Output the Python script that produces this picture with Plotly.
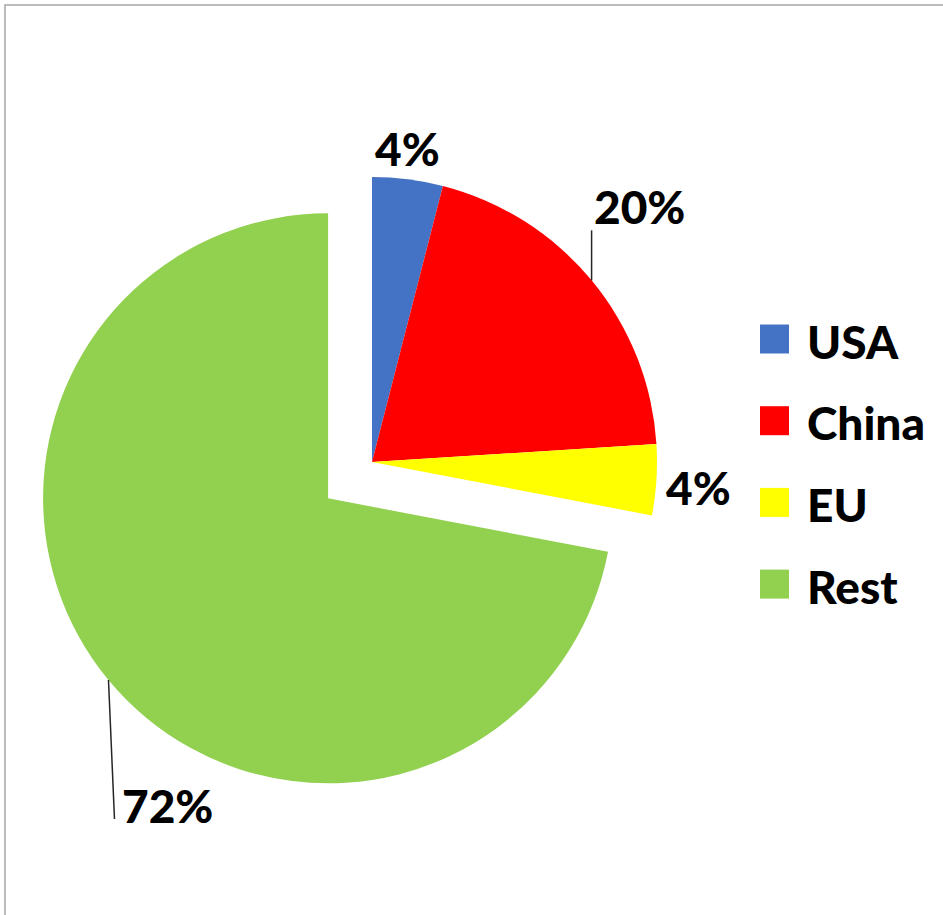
import math
import plotly.graph_objects as go

# ---- data ----
categories = ["USA", "China", "EU", "Rest"]
values = [4, 20, 4, 72]
colors = ["#4472C4", "#FF0000", "#FFFF00", "#92D050"]
pulls = [0, 0, 0, 0.2]

# ---- label styling (pixel offsets from the slice's outer arc midpoint) ----
label_offsets = [(0, -31), (48, -74), (42, 8), (59, 126)]
leader_ends = [None, (0, -50), None, (6, 139)]

# ---- layout geometry (pixels) ----
W, H = 943, 915
ML, MR, MT, MB = 30, 229, 120, 111
PW, PH = W - ML - MR, H - MT - MB

def px_x(px):
    return (px - ML) / PW

def px_y(py):
    return (MT + PH - py) / PH

FONT = "Lato, 'Open Sans', sans-serif"
FSIZE = 46
FWEIGHT = 900

fig = go.Figure(
    go.Pie(
        labels=categories,
        values=values,
        marker=dict(colors=colors, line=dict(width=0)),
        pull=pulls,
        sort=False,
        direction="clockwise",
        rotation=0,
        textinfo="none",
        showlegend=False,
        automargin=False,
    )
)

# pie geometry as plotly computes it (domain centre, radius shrunk by max pull)
cx = ML + PW / 2
cy = MT + PH / 2
radius = min(PW, PH) / (2 * (1 + max(pulls)))
total = sum(values)

shapes = [
    dict(type="rect", xref="paper", yref="paper",
         x0=px_x(5), x1=px_x(W + 50), y0=px_y(H + 50), y1=px_y(5),
         line=dict(color="#A6A6A6", width=1.5), fillcolor="rgba(0,0,0,0)", layer="below")
]
annotations = []

cum = 0
for v, p, off, lead in zip(values, pulls, label_offsets, leader_ends):
    mid = (cum + v / 2) / total * 2 * math.pi
    cum += v
    dx, dy = math.sin(mid), -math.cos(mid)
    ax_ = cx + (1 + p) * radius * dx
    ay_ = cy + (1 + p) * radius * dy
    annotations.append(dict(xref="paper", yref="paper",
                            x=px_x(ax_ + off[0]), y=px_y(ay_ + off[1]),
                            xanchor="center", yanchor="middle", showarrow=False,
                            text=f"{round(v / total * 100)}%",
                            font=dict(family=FONT, size=FSIZE, color="black", weight=FWEIGHT)))
    if lead is not None:
        shapes.append(dict(type="line", xref="paper", yref="paper",
                           x0=px_x(ax_), y0=px_y(ay_),
                           x1=px_x(ax_ + lead[0]), y1=px_y(ay_ + lead[1]),
                           line=dict(color="#262626", width=1.5)))

# custom legend: large squares + bold labels
leg_sq_x0, leg_sq_size = 760, 29
leg_text_x = 805
leg_y0, leg_step = 339, 81.7
for i, (cat, col) in enumerate(zip(categories, colors)):
    yy = leg_y0 + i * leg_step
    shapes.append(dict(type="rect", xref="paper", yref="paper",
                       x0=px_x(leg_sq_x0), x1=px_x(leg_sq_x0 + leg_sq_size),
                       y0=px_y(yy + leg_sq_size / 2), y1=px_y(yy - leg_sq_size / 2),
                       line=dict(width=0), fillcolor=col))
    annotations.append(dict(xref="paper", yref="paper", x=px_x(leg_text_x), y=px_y(yy + 2),
                            xanchor="left", yanchor="middle", showarrow=False, text=cat,
                            font=dict(family=FONT, size=FSIZE, color="black", weight=FWEIGHT)))

fig.update_layout(
    width=W, height=H,
    margin=dict(l=ML, r=MR, t=MT, b=MB, autoexpand=False),
    paper_bgcolor="white",
    plot_bgcolor="white",
    shapes=shapes,
    annotations=annotations,
)

fig.write_html("out.html", config={"displayModeBar": False},
               post_script="document.body.style.margin='0';document.body.style.overflow='hidden';")
